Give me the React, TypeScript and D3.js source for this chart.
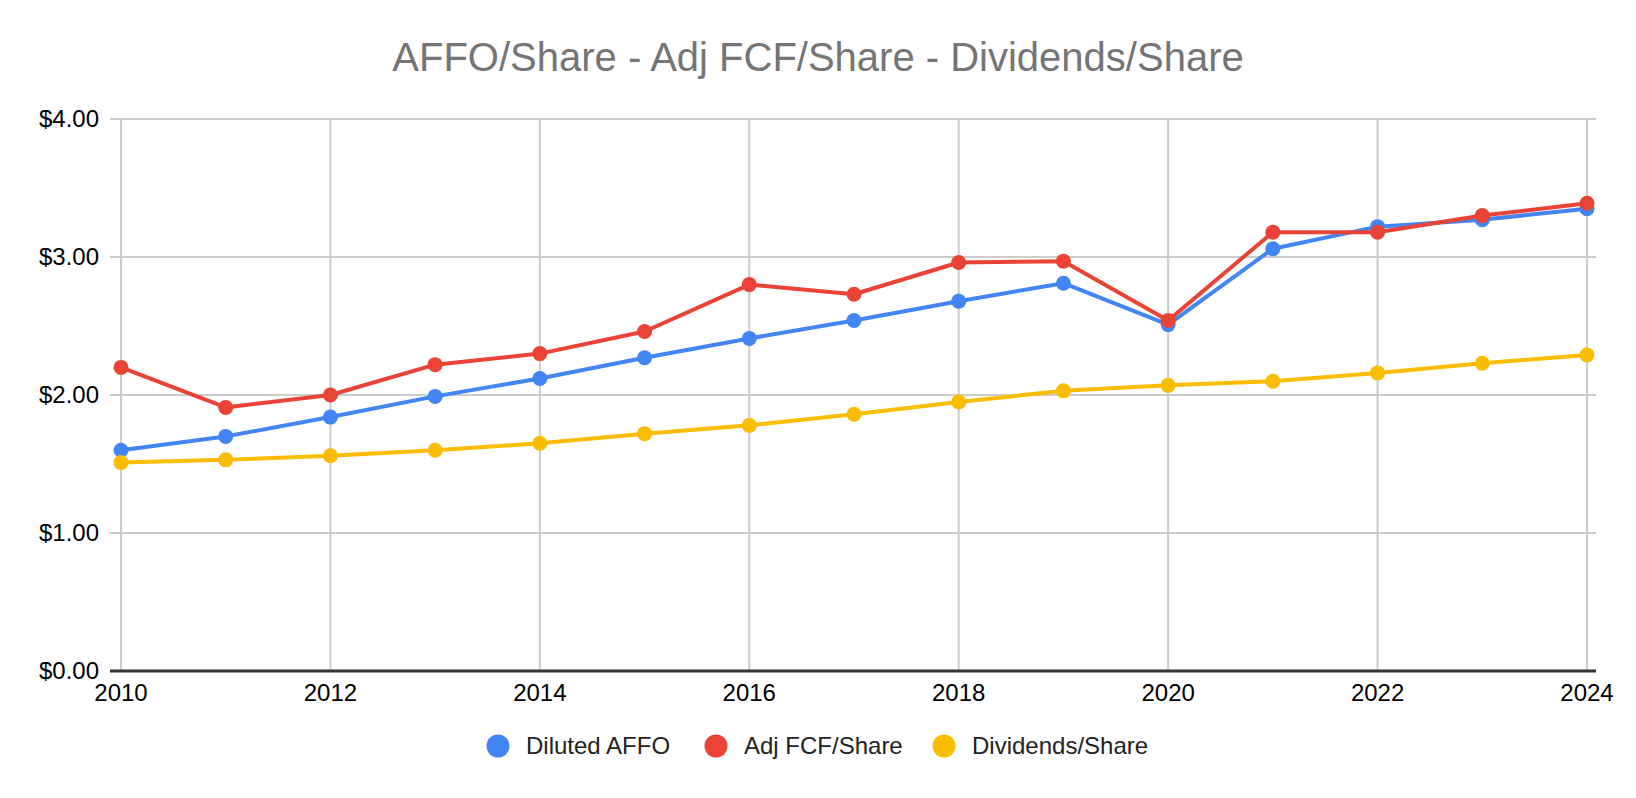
import { useEffect } from 'react';
import * as d3 from 'd3';

const years = [2010, 2011, 2012, 2013, 2014, 2015, 2016, 2017, 2018, 2019, 2020, 2021, 2022, 2023, 2024];
const dilutedAffo = [1.60, 1.70, 1.84, 1.99, 2.12, 2.27, 2.41, 2.54, 2.68, 2.81, 2.51, 3.06, 3.22, 3.27, 3.35];
const adjFcfShare = [2.20, 1.91, 2.00, 2.22, 2.30, 2.46, 2.80, 2.73, 2.96, 2.97, 2.54, 3.18, 3.18, 3.30, 3.39];
const dividendsShare = [1.51, 1.53, 1.56, 1.60, 1.65, 1.72, 1.78, 1.86, 1.95, 2.03, 2.07, 2.10, 2.16, 2.23, 2.29];
const xTicks = [2010, 2012, 2014, 2016, 2018, 2020, 2022, 2024];
const yTicks = [0, 1, 2, 3, 4];

const series = [
  { label: 'Diluted AFFO', values: dilutedAffo, color: '#4285F4' },
  { label: 'Adj FCF/Share', values: adjFcfShare, color: '#EA4335' },
  { label: 'Dividends/Share', values: dividendsShare, color: '#FBBC04' },
];

const W = 1636;
const H = 798;
const margin = { top: 119, right: 49, bottom: 127, left: 121 };
const font = '"Liberation Sans", Arial, sans-serif';

export default function App() {
  useEffect(() => {
    document.body.style.margin = '0';
  }, []);

  const x = d3.scaleLinear().domain([2010, 2024]).range([margin.left, W - margin.right]);
  const y = d3.scaleLinear().domain([0, 4]).range([H - margin.bottom, margin.top]);
  const line = d3.line<number>()
    .x((_, i) => x(years[i]))
    .y(d => y(d));

  const legendX = [498, 716, 944];

  return (
    <svg width={W} height={H} style={{ display: 'block', background: '#fff' }}>
      <text x={W / 2} y={71} textAnchor="middle" fontFamily={font} fontSize={40} fill="#757575">
        AFFO/Share - Adj FCF/Share - Dividends/Share
      </text>

      {/* horizontal grid */}
      {yTicks.map(t => (
        <g key={'y' + t}>
          <line x1={margin.left - 11} x2={W - margin.right + 9} y1={y(t)} y2={y(t)} stroke="#cccccc" strokeWidth={2} />
          <text x={99} y={y(t)} dy="0.35em" textAnchor="end" fontFamily={font} fontSize={24} fill="#000">
            {d3.format('$.2f')(t)}
          </text>
        </g>
      ))}

      {/* vertical grid */}
      {xTicks.map(t => (
        <g key={'x' + t}>
          <line x1={x(t)} x2={x(t)} y1={margin.top} y2={y(0)} stroke="#cccccc" strokeWidth={2} />
          <text x={x(t)} y={701} textAnchor="middle" fontFamily={font} fontSize={24} fill="#000">
            {t}
          </text>
        </g>
      ))}

      <line x1={margin.left - 11} x2={W - margin.right + 9} y1={y(0)} y2={y(0)} stroke="#333333" strokeWidth={3} />

      {series.map(s => (
        <g key={s.label}>
          <path d={line(s.values) ?? ''} fill="none" stroke={s.color} strokeWidth={4} strokeLinejoin="round" />
          {s.values.map((v, i) => (
            <circle key={i} cx={x(years[i])} cy={y(v)} r={7.5} fill={s.color} />
          ))}
        </g>
      ))}

      {series.map((s, i) => (
        <g key={'lg' + s.label} transform={`translate(${legendX[i]},746)`}>
          <circle r={11.5} fill={s.color} />
          <text x={28} dy="0.35em" fontFamily={font} fontSize={24} fill="#222">
            {s.label}
          </text>
        </g>
      ))}
    </svg>
  );
}
